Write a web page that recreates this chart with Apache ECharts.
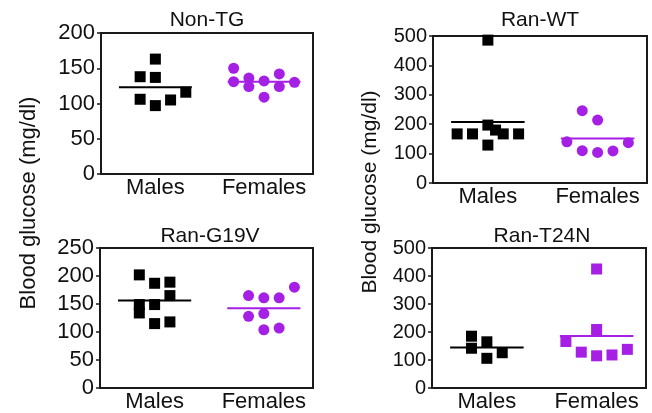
<!DOCTYPE html>
<html><head><meta charset="utf-8">
<script src="https://cdn.jsdelivr.net/npm/echarts@6/dist/echarts.min.js"></script>
<style>html,body{margin:0;padding:0;background:#fff}#c{width:652px;height:413px}</style>
</head><body><div id="c"></div>
<script>
// ---------- data ----------
const categories = ['Males', 'Females'];
const panelTitles = ['Non-TG', 'Ran-WT', 'Ran-G19V', 'Ran-T24N'];
const yAxisTitle = 'Blood glucose (mg/dl)';
const yMax = [200, 500, 250, 500];
const yStep = [50, 100, 50, 100];

const nonTgMales = [163, 138, 137, 116, 106, 105, 97];
const nonTgMaleSlots = [0, -1, 0, 2, -1, 1, 0];
const nonTgFemales = [150, 131, 136, 124, 132, 109, 142, 124, 130];
const nonTgFemaleSlots = [-2, -2, -1, -1, 0, 0, 1, 1, 2];

const ranWtMales = [486, 167, 167, 197, 180, 167, 167, 129];
const ranWtMaleSlots = [0, -2, -1, 0, 0.5, 1, 2, 0];
const ranWtFemales = [140, 246, 110, 214, 104, 109, 137];
const ranWtFemaleSlots = [-2, -1, -1, 0, 0, 1, 2];

const g19vMales = [202, 187, 189, 165, 149, 134, 149, 115, 118];
const g19vMaleSlots = [-1, 0, 1, 1, -1, -1, 0, 0, 1];
const g19vFemales = [180, 165, 161, 161, 128, 133, 104, 107];
const g19vFemaleSlots = [2, -1, 0, 1, -1, 0, 0, 1];

const t24nMales = [185, 142, 165, 106, 126];
const t24nMaleSlots = [-1, -1, 0, 0, 1];
const t24nFemales = [425, 209, 166, 128, 115, 118, 138];
const t24nFemaleSlots = [0, 0, -2, -1, 0, 1, 2];

// ---------- layout / style ----------
const FONT = "'Liberation Sans', Arial, Helvetica, sans-serif";
const BLACK = '#000000';
const PURPLE = '#A51FE4';
const FRAME = '#1a1a1a';
const SLOT = 0.14;
const HALF = 0.335;

const panels = [
  { males: nonTgMales, mSlots: nonTgMaleSlots, females: nonTgFemales, fSlots: nonTgFemaleSlots, fSymbol: 'circle',
    grid: { left: 101, top: 33, width: 212, height: 141 }, title: [207, 20], tickFont: 22 },
  { males: ranWtMales, mSlots: ranWtMaleSlots, females: ranWtFemales, fSlots: ranWtFemaleSlots, fSymbol: 'circle',
    grid: { left: 433, top: 36, width: 214, height: 147 }, title: [540, 20], tickFont: 20 },
  { males: g19vMales, mSlots: g19vMaleSlots, females: g19vFemales, fSlots: g19vFemaleSlots, fSymbol: 'circle',
    grid: { left: 100, top: 248, width: 213, height: 141 }, title: [210, 236], tickFont: 22 },
  { males: t24nMales, mSlots: t24nMaleSlots, females: t24nFemales, fSlots: t24nFemaleSlots, fSymbol: 'rect',
    grid: { left: 432, top: 248, width: 214, height: 141 }, title: [542, 236], tickFont: 20 }
];

const mean = a => a.reduce((s, v) => s + v, 0) / a.length;

const grids = [], xAxes = [], yAxes = [], series = [], graphics = [];
panels.forEach((p, i) => {
  grids.push(Object.assign({ show: true, borderColor: FRAME, borderWidth: 2, backgroundColor: 'transparent' }, p.grid));
  xAxes.push({
    type: 'value', gridIndex: i, min: -0.5, max: 1.45,
    axisLine: { show: false, onZero: false }, axisTick: { show: false }, splitLine: { show: false },
    axisLabel: { customValues: [0, 1], formatter: v => categories[Math.round(v)],
      fontSize: 22, color: '#111', margin: 3, fontFamily: FONT }
  });
  yAxes.push({
    type: 'value', gridIndex: i, min: 0, max: yMax[i], interval: yStep[i],
    axisLine: { show: true, onZero: false, lineStyle: { color: FRAME, width: 2 } },
    axisTick: { show: true, length: 4, lineStyle: { color: FRAME, width: 1.5 } },
    splitLine: { show: false },
    axisLabel: { fontSize: p.tickFont, color: '#111', margin: 6, fontFamily: FONT }
  });
  const groups = [
    { vals: p.males, slots: p.mSlots, idx: 0, color: BLACK, symbol: 'rect' },
    { vals: p.females, slots: p.fSlots, idx: 1, color: PURPLE, symbol: p.fSymbol }
  ];
  groups.forEach(g => {
    series.push({
      type: 'scatter', xAxisIndex: i, yAxisIndex: i, symbol: g.symbol, symbolSize: 11,
      itemStyle: { color: g.color, opacity: 1 }, silent: true,
      data: g.vals.map((v, k) => [g.idx + g.slots[k] * SLOT, v])
    });
    const m = mean(g.vals);
    series.push({
      type: 'line', xAxisIndex: i, yAxisIndex: i, symbol: 'none', silent: true, z: 3,
      lineStyle: { color: g.color, width: 2 },
      data: [[g.idx - HALF, m], [g.idx + HALF, m]]
    });
  });
  graphics.push({
    type: 'text', x: p.title[0], y: p.title[1],
    style: { text: panelTitles[i], font: '21px ' + FONT, fill: '#111',
      align: 'center', verticalAlign: 'middle', textAlign: 'center', textVerticalAlign: 'middle' }
  });
});

graphics.push({
  type: 'text', x: 29, y: 203, rotation: Math.PI / 2,
  style: { text: yAxisTitle, font: '22px ' + FONT, fill: '#111',
    align: 'center', verticalAlign: 'middle', textAlign: 'center', textVerticalAlign: 'middle' }
});
graphics.push({
  type: 'text', x: 370, y: 192, rotation: Math.PI / 2,
  style: { text: yAxisTitle, font: '21px ' + FONT, fill: '#111',
    align: 'center', verticalAlign: 'middle', textAlign: 'center', textVerticalAlign: 'middle' }
});

const chart = echarts.init(document.getElementById('c'), null, { renderer: 'canvas' });
chart.setOption({
  animation: false,
  backgroundColor: '#ffffff',
  grid: grids, xAxis: xAxes, yAxis: yAxes, series: series, graphic: graphics
});
</script>
</body></html>
